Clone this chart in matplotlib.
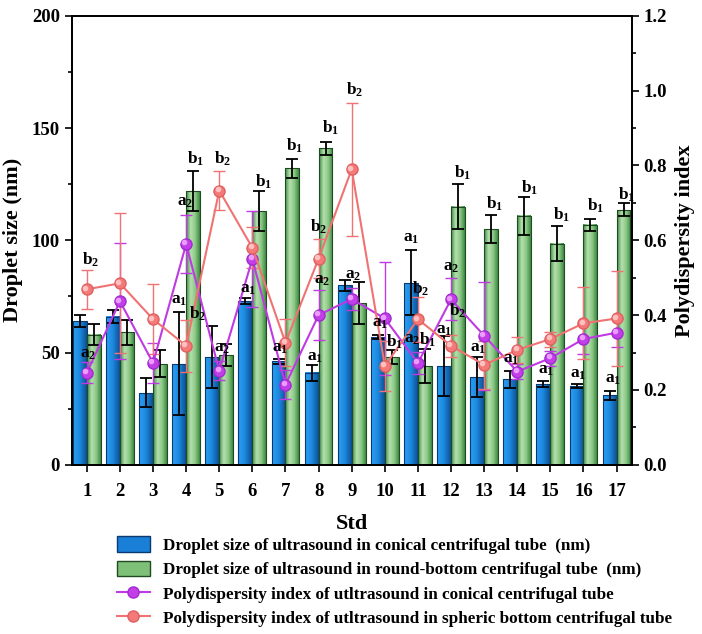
import matplotlib
matplotlib.use('Agg')
import matplotlib.pyplot as plt
import numpy as np
from matplotlib.colors import LinearSegmentedColormap
from matplotlib.patches import Patch
from matplotlib.lines import Line2D
from matplotlib.ticker import MultipleLocator
from matplotlib.transforms import offset_copy

plt.rcParams['font.family'] = 'Liberation Serif'
plt.rcParams['font.weight'] = 'bold'
plt.rcParams['mathtext.fontset'] = 'custom'
plt.rcParams['mathtext.bf'] = 'Liberation Serif:bold'
plt.rcParams['mathtext.rm'] = 'Liberation Serif:bold'
plt.rcParams['mathtext.it'] = 'Liberation Serif:bold'

# dados
std = np.arange(1, 18)
size_conical = [64, 66, 32, 45, 48, 73, 46, 41, 80, 57, 81, 44, 39, 38, 36, 35, 31]
size_conical_err = [2.5, 3, 6.5, 23, 14, 1.5, 1, 3.5, 2.5, 1, 14.5, 13.5, 9, 3.8, 1.5, 0.8, 2]
size_round = [58, 59, 45, 122, 49, 113, 132, 141, 72, 48, 44, 115, 105, 111, 98.5, 107, 113.5]
size_round_err = [4.7, 5.5, 6, 9, 5, 9, 4.3, 3, 9.5, 3, 7.6, 10, 6.3, 8.5, 7.8, 2.7, 2.9]
pdi_conical = [0.246, 0.437, 0.272, 0.59, 0.251, 0.55, 0.214, 0.40, 0.443, 0.391,
               0.272, 0.442, 0.345, 0.249, 0.285, 0.336, 0.353]
pdi_conical_err = [0.028, 0.155, 0.053, 0.078, 0.025, 0.128, 0.038, 0.067, 0.03, 0.15,
                   0.03, 0.056, 0.144, 0.02, 0.02, 0.04, 0.037]
pdi_round = [0.469, 0.485, 0.389, 0.318, 0.733, 0.58, 0.326, 0.551, 0.79, 0.264,
             0.389, 0.318, 0.267, 0.307, 0.336, 0.378, 0.391]
pdi_round_err = [0.052, 0.187, 0.093, 0.07, 0.053, 0.055, 0.063, 0.053, 0.178, 0.066,
                 0.06, 0.03, 0.064, 0.035, 0.02, 0.096, 0.126]

# letras de significancia (x, y em nm, texto)
letras = [(1.03, 92, 'b_2'), (0.94, 50, 'a_2'),
          (4.2, 137, 'b_1'), (3.87, 118, 'a_2'), (3.69, 74, 'a_1'), (4.26, 68, 'b_2'),
          (4.99, 137, 'b_2'), (4.99, 53, 'a_2'),
          (6.23, 127, 'b_1'), (5.77, 79, 'a_1'),
          (7.19, 143, 'b_1'), (6.74, 52.6, 'a_1'),
          (8.25, 151, 'b_1'), (7.89, 107, 'b_2'), (8.0, 83, 'a_2'), (7.8, 49, 'a_1'),
          (9.0, 168, 'b_2'), (8.95, 85.5, 'a_2'),
          (9.76, 64, 'a_1'), (10.2, 55.7, 'b_1'),
          (10.7, 101.6, 'a_1'), (10.97, 79, 'b_2'), (10.72, 56.6, 'a_2'), (11.2, 56.6, 'b_1'),
          (12.24, 131, 'b_1'), (11.9, 89, 'a_2'), (12.1, 69.5, 'b_2'), (11.68, 61, 'a_1'),
          (13.23, 117, 'b_1'), (12.72, 52.6, 'a_1'),
          (14.26, 124, 'b_1'), (13.72, 47.7, 'a_1'),
          (15.23, 112, 'b_1'), (14.78, 42.8, 'a_1'),
          (16.26, 116, 'b_1'), (15.74, 41.4, 'a_1'),
          (17.2, 121, 'b_1'), (16.8, 38.8, 'a_1')]

nomes = ['Droplet size of ultrasound in conical centrifugal tube  (nm)',
         'Droplet size of ultrasound in round-bottom centrifugal tube  (nm)',
         'Polydispersity index of utltrasound in conical centrifugal tube',
         'Polydispersity index of utltrasound in spheric bottom centrifugal tube']

cmap_azul = LinearSegmentedColormap.from_list('azul', ['#2aa0f4', '#1c88de', '#0d4f93'])
cmap_verde = LinearSegmentedColormap.from_list('verde', ['#3f8a45', '#b4e0ad', '#8cc886', '#3e8a44'])

fig = plt.figure(figsize=(7.02, 6.34), dpi=100)
ax = fig.add_axes([0.102, 0.267, 0.798, 0.708])
ax2 = ax.twinx()

w = 0.42
ekw = dict(ecolor='k', elinewidth=1.3, capsize=4, capthick=1.3, zorder=4)
b1 = ax.bar(std - w / 2, size_conical, w, yerr=size_conical_err, color='none',
            edgecolor='#0a3a70', lw=0.8, error_kw=ekw, zorder=3)
b2 = ax.bar(std + w / 2, size_round, w, yerr=size_round_err, color='none',
            edgecolor='#1f4a22', lw=0.8, error_kw=ekw, zorder=3)

grad = np.linspace(0, 1, 64).reshape(1, -1)
for bars, cm in ((b1, cmap_azul), (b2, cmap_verde)):
    for r in bars:
        x0 = r.get_x()
        ax.imshow(grad, extent=(x0, x0 + r.get_width(), 0, r.get_height()),
                  cmap=cm, aspect='auto', zorder=2, interpolation='bilinear')

ax.set_xlim(0.54, 17.46)
ax.set_ylim(0, 200)
ax2.set_ylim(0, 1.2)

cor_m = '#c03ae4'
cor_s = '#f07272'
ax2.errorbar(std, pdi_conical, yerr=pdi_conical_err, color=cor_m, lw=1.5, elinewidth=1,
             capsize=4, marker='o', ms=8, mfc='#c23fe8', mec='#a22ad0', zorder=5)
ax2.errorbar(std, pdi_round, yerr=pdi_round_err, color=cor_s, lw=1.5, elinewidth=1,
             capsize=4, marker='o', ms=8, mfc='#f47a7a', mec='#e06060', zorder=5)
brilho = offset_copy(ax2.transData, fig=fig, x=-1.2, y=1.2, units='points')
ax2.plot(std, pdi_conical, 'o', ms=3, color='#ec9cff', transform=brilho, zorder=6)
ax2.plot(std, pdi_round, 'o', ms=3, color='#ffc0c0', transform=brilho, zorder=6)

for x, y, t in letras:
    ax2.text(x + 0.1, y - 0.8, r'$\mathbf{' + t + '}$', transform=ax.transData,
             ha='center', va='center', fontsize=12.5, zorder=7)

ax.set_xticks(std)
ax.set_xticklabels([str(s) for s in std])
ax.yaxis.set_major_locator(MultipleLocator(50))
ax.yaxis.set_minor_locator(MultipleLocator(25))
ax2.yaxis.set_major_locator(MultipleLocator(0.2))
ax2.yaxis.set_minor_locator(MultipleLocator(0.1))
ax2.set_yticklabels(['%.1f' % v for v in ax2.get_yticks()])

for a in (ax, ax2):
    a.tick_params(direction='out', length=5, width=1.2, labelsize=13.5)
    a.tick_params(which='minor', direction='out', length=3, width=1.2)
    for s in a.spines.values():
        s.set_linewidth(1.3)
ax.tick_params(axis='x', pad=8)

ax.set_xlabel('Std', fontsize=16, fontweight='bold', labelpad=10)
ax.set_ylabel('Droplet size (nm)', fontsize=16, fontweight='bold', labelpad=6)
ax2.set_ylabel('Polydispersity index', fontsize=16, fontweight='bold', labelpad=6)

handles = [Patch(facecolor='#1a7fd6', edgecolor='#0a3a70'),
           Patch(facecolor='#7fc079', edgecolor='#1f4a22'),
           Line2D([], [], color=cor_m, lw=1.5, marker='o', ms=8, mfc='#c23fe8', mec='#a22ad0'),
           Line2D([], [], color=cor_s, lw=1.5, marker='o', ms=8, mfc='#f47a7a', mec='#e06060')]
fig.legend(handles, nomes, loc='upper left', bbox_to_anchor=(0.166, 0.154),
           frameon=False, fontsize=12.3, handlelength=1.95, handleheight=1.05,
           handletextpad=0.75, labelspacing=0.38, borderpad=0, borderaxespad=0)

fig.savefig('out.png', dpi=100)
